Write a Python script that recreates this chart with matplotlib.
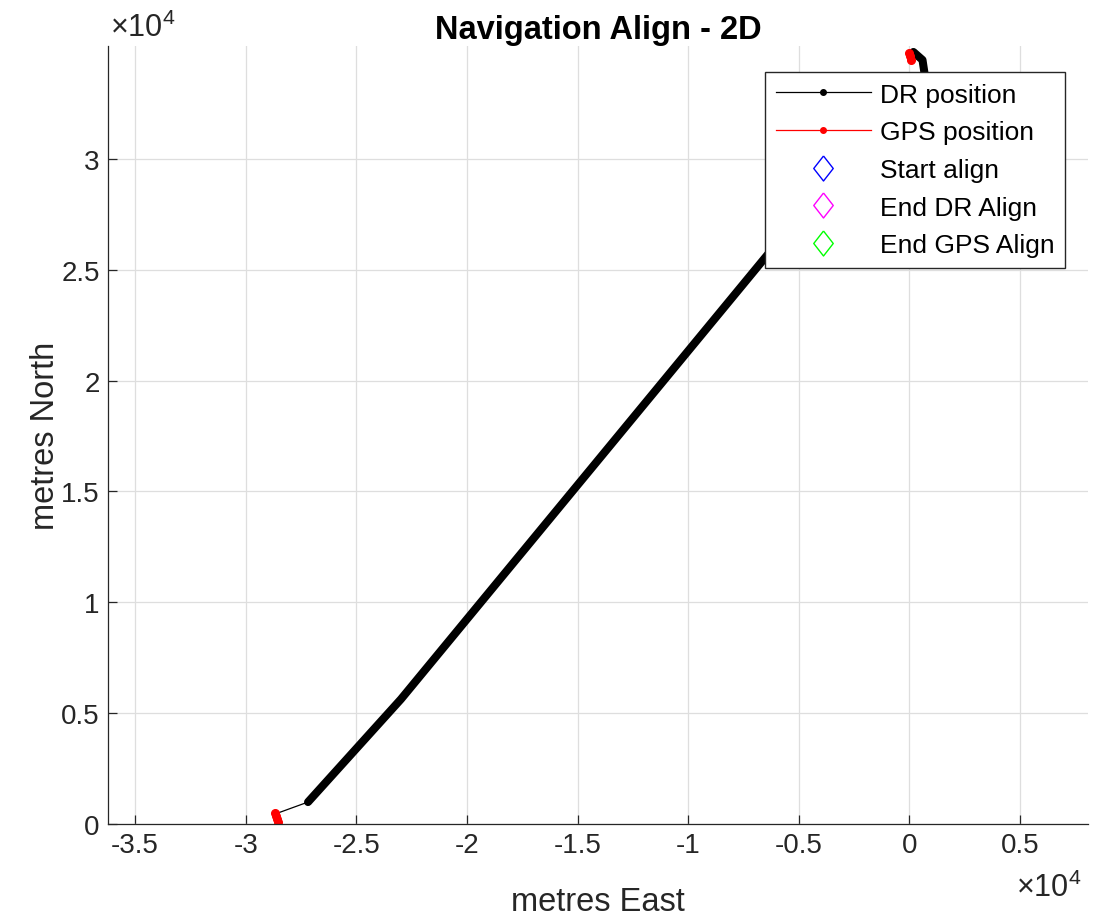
import numpy as np
import matplotlib.pyplot as plt
from matplotlib.lines import Line2D
from matplotlib.ticker import FuncFormatter

plt.rcParams['font.family'] = ['Liberation Sans', 'DejaVu Sans']
plt.rcParams['mathtext.fontset'] = 'custom'
plt.rcParams['mathtext.rm'] = 'Liberation Sans'

# dead reckoning track, metres
dr_east = [-28530, -27180, -22980, -6410, 680, 590, 180]
dr_north = [500, 990, 5630, 25680, 33870, 34460, 34820]

# gps fixes, metres (nan splits the two blocks)
gps_east = [-28670, -28630, -28590, -28550, np.nan, -10, 30, 80]
gps_north = [500, 360, 220, 90, np.nan, 34780, 34620, 34460]

# align markers (not on screen)
start_align = ([], [])
end_dr_align = ([], [])
end_gps_align = ([], [])

xticks = np.arange(-35000, 5001, 5000)
yticks = np.arange(0, 30001, 5000)

axcol = (0.15, 0.15, 0.15)
diamond = [(0, 1), (0.78, 0), (0, -1), (-0.78, 0), (0, 1)]

fig = plt.figure(figsize=(10.94, 9.2), dpi=100)
ax = fig.add_axes([108/1094, 1-825/920, 980/1094, 778/920])

ax.plot(dr_east, dr_north, '-', color='k', lw=0.9)
ax.plot(dr_east[1:], dr_north[1:], '-', color='k', lw=5.8,
        solid_capstyle='round', solid_joinstyle='round')
ax.plot(gps_east, gps_north, '.-', color='r', lw=1.5, ms=11)
ax.plot(*start_align, color='#0000ff', marker=diamond, ls='none', mfc='none', ms=18)
ax.plot(*end_dr_align, color='#ff00ff', marker=diamond, ls='none', mfc='none', ms=18)
ax.plot(*end_gps_align, color='#00ff00', marker=diamond, ls='none', mfc='none', ms=18)

ax.set_xlim(-36220, 8070)
ax.set_ylim(0, 35090)
ax.set_xticks(xticks)
ax.set_yticks(yticks)
fmt = FuncFormatter(lambda v, p: ('%g' % (v / 1e4)).replace('\u2212', '-'))
ax.xaxis.set_major_formatter(fmt)
ax.yaxis.set_major_formatter(fmt)
ax.tick_params(direction='in', length=6.5, width=0.9, color=axcol,
               labelcolor=axcol, labelsize=20, pad=6)
for s in ['top', 'right']:
    ax.spines[s].set_visible(False)
for s in ['left', 'bottom']:
    ax.spines[s].set_color(axcol)
    ax.spines[s].set_linewidth(0.9)
ax.grid(True, color='#dedede', lw=0.9)
ax.set_axisbelow(True)

ax.set_xlabel('metres East', fontsize=23.5, color=axcol, labelpad=20)
ax.set_ylabel('metres North', fontsize=23.5, color=axcol, labelpad=0)
ax.set_title('Navigation Align - 2D', fontsize=23.5, fontweight='bold', pad=6)

fig.text(110/1094, 1-28/920, r'$\times10^{4}$', fontsize=22, color=axcol, va='center')
fig.text(1016/1094, 1-888/920, r'$\times10^{4}$', fontsize=22, color=axcol, va='center')

handles = [
    Line2D([], [], color='k', lw=0.9, marker='.', ms=8),
    Line2D([], [], color='r', lw=0.9, marker='.', ms=8),
    Line2D([], [], color='#0000ff', ls='none', marker=diamond, mfc='none', ms=18),
    Line2D([], [], color='#ff00ff', ls='none', marker=diamond, mfc='none', ms=18),
    Line2D([], [], color='#00ff00', ls='none', marker=diamond, mfc='none', ms=18),
]
labels = ['DR position', 'GPS position', 'Start align', 'End DR Align', 'End GPS Align']
leg = ax.legend(handles, labels, loc='upper right', bbox_to_anchor=(1065/1094, 1-73/920),
                bbox_transform=fig.transFigure, fontsize=19, fancybox=False,
                framealpha=1, edgecolor=axcol, borderaxespad=0, borderpad=0.4,
                handlelength=3.6, handletextpad=0.35, labelspacing=0.52, numpoints=1)
leg.get_frame().set_linewidth(1.0)
leg.set_zorder(5)

plt.savefig('out.png', dpi=100)
